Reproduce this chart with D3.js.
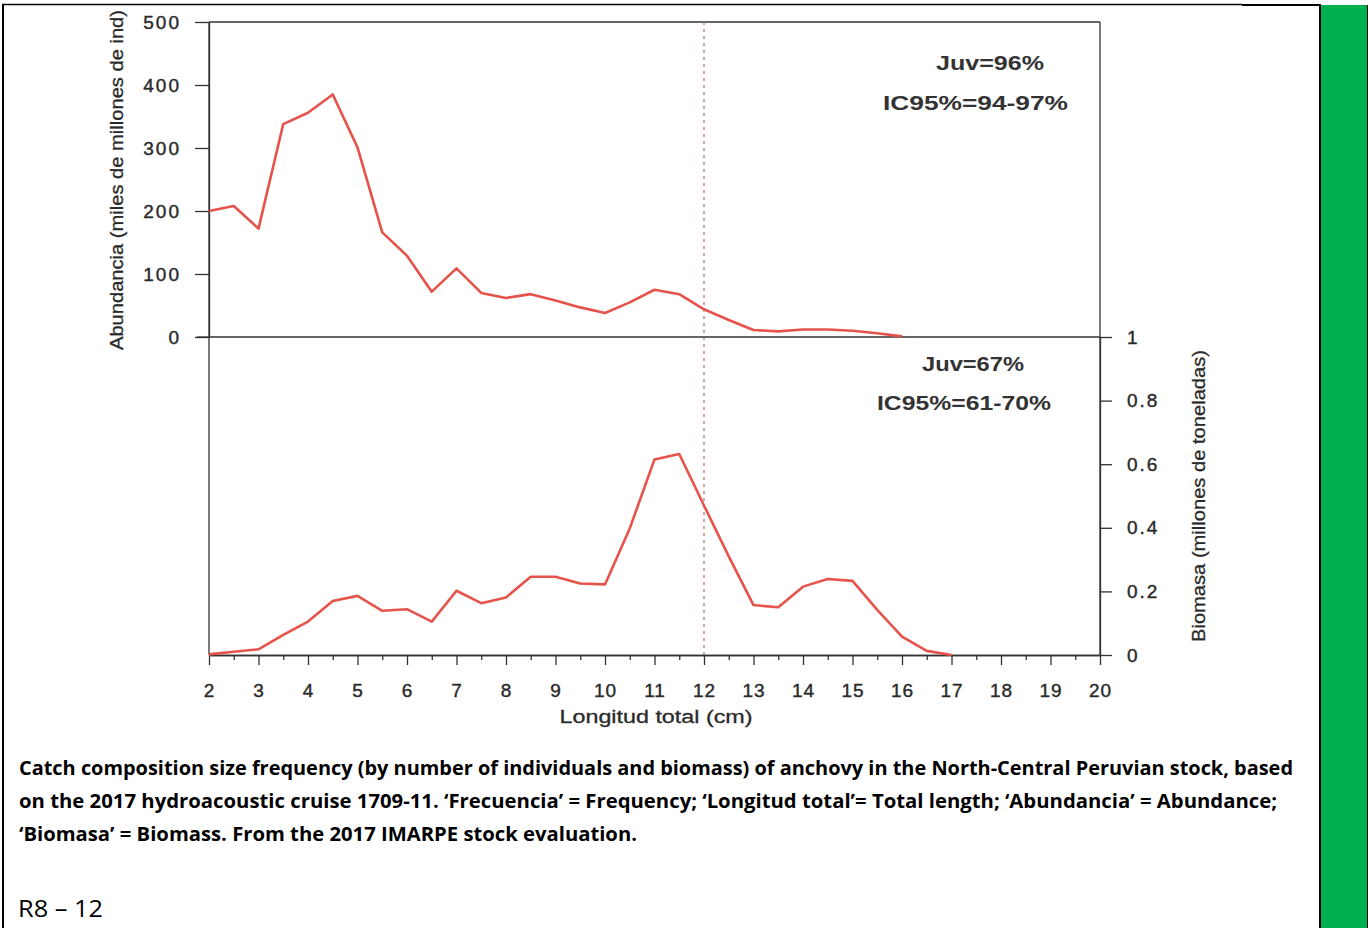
<!DOCTYPE html>
<html>
<head>
<meta charset="utf-8">
<script src="https://cdn.jsdelivr.net/npm/d3@7"></script>
<style>
  body { margin: 0; background: #fff; }
  svg { display: block; }
</style>
</head>
<body>
<svg id="chart" width="1368" height="928"></svg>
<script>
// size classes (cm), every half cm
const tallas = [2, 2.5, 3, 3.5, 4, 4.5, 5, 5.5, 6, 6.5, 7, 7.5, 8, 8.5, 9, 9.5, 10,
  10.5, 11, 11.5, 12, 12.5, 13, 13.5, 14, 14.5, 15, 15.5, 16, 16.5, 17];

// top panel: abundance (miles de millones de ind), 2 .. 16 cm
const abundancia = [200, 208, 172, 338, 356, 385, 301, 166, 129, 72, 109, 70, 62, 68,
  58, 47, 38, 55, 75, 68, 44, 27, 11, 9, 12, 12, 10, 6, 1];

// bottom panel: biomass (millones de toneladas), 2 .. 17 cm
const biomasa = [0.002, 0.01, 0.018, 0.063, 0.105, 0.17, 0.186, 0.139, 0.144, 0.105,
  0.202, 0.163, 0.181, 0.246, 0.246, 0.225, 0.222, 0.398, 0.615, 0.632, 0.47, 0.31,
  0.157, 0.15, 0.215, 0.239, 0.233, 0.142, 0.058, 0.013, 0];

const xTicks = d3.range(2, 21);
const xMinor = d3.range(2.5, 20, 1);
const abundTicks = [0, 100, 200, 300, 400, 500];
const bioTicks = [0, 0.2, 0.4, 0.6, 0.8, 1];
const tallaJuvenil = 12;

const notas = {
  top: ["Juv=96%", "IC95%=94-97%"],
  bottom: ["Juv=67%", "IC95%=61-70%"]
};

const caption = [
  "Catch composition size frequency (by number of individuals and biomass) of anchovy in the North-Central Peruvian stock, based",
  "on the 2017 hydroacoustic cruise 1709-11. \u2018Frecuencia\u2019 = Frequency; \u2018Longitud total\u2019= Total length; \u2018Abundancia\u2019 = Abundance;",
  "\u2018Biomasa\u2019 = Biomass. From the 2017 IMARPE stock evaluation."
];

const svg = d3.select("#chart");
const font = "'Liberation Sans', Arial, sans-serif";
const axisColor = "#333";
const textColor = "#2a2a2a";
const lineColor = "#e5534b";

// layout
const left = 209, right = 1100;
const topY = 22, midY = 337, bottomY = 655;

const x = d3.scaleLinear().domain([2, 20]).range([left, right]);
const yTop = d3.scaleLinear().domain([0, 500]).range([midY, topY]);
const yBot = d3.scaleLinear().domain([0, 1]).range([bottomY, midY]);

// page frame + green side bar
svg.append("line").attr("x1", 3).attr("x2", 3).attr("y1", 4).attr("y2", 928)
  .attr("stroke", "#000").attr("stroke-width", 2);
svg.append("line").attr("x1", 2).attr("x2", 1242).attr("y1", 4.5).attr("y2", 4.5)
  .attr("stroke", "#000").attr("stroke-width", 1.5);
svg.append("line").attr("x1", 1242).attr("x2", 1321).attr("y1", 5).attr("y2", 5)
  .attr("stroke", "#000").attr("stroke-width", 2);
svg.append("rect").attr("x", 1320).attr("y", 5).attr("width", 48).attr("height", 923)
  .attr("fill", "#00AF50");
svg.append("line").attr("x1", 1320).attr("x2", 1320).attr("y1", 4).attr("y2", 928)
  .attr("stroke", "#000").attr("stroke-width", 2);
svg.append("line").attr("x1", 1367.5).attr("x2", 1367.5).attr("y1", 5).attr("y2", 928)
  .attr("stroke", "#000").attr("stroke-width", 1);

// panel frame
const frame = svg.append("g").attr("stroke", axisColor).attr("stroke-width", 1.3);
frame.append("line").attr("x1", left).attr("x2", right).attr("y1", topY).attr("y2", topY);
frame.append("line").attr("x1", left).attr("x2", left).attr("y1", topY).attr("y2", bottomY);
frame.append("line").attr("x1", right).attr("x2", right).attr("y1", topY).attr("y2", bottomY);
frame.append("line").attr("x1", left).attr("x2", right).attr("y1", midY).attr("y2", midY);

// 12 cm juvenile reference line
svg.append("line")
  .attr("x1", x(tallaJuvenil)).attr("x2", x(tallaJuvenil))
  .attr("y1", topY).attr("y2", bottomY)
  .attr("stroke", "#b5705f").attr("stroke-width", 1.2)
  .attr("stroke-dasharray", "3,4");

function styleAxis(g, spacing) {
  g.select(".domain").attr("stroke", axisColor).attr("stroke-width", 1.3);
  g.selectAll(".tick line").attr("stroke", axisColor).attr("stroke-width", 1.3);
  g.selectAll(".tick text")
    .attr("fill", textColor)
    .attr("stroke", textColor).attr("stroke-width", 0.4)
    .style("font-family", font)
    .style("font-size", "19px")
    .style("letter-spacing", spacing);
}

// left axis (abundance)
svg.append("g")
  .attr("transform", `translate(${left},0)`)
  .call(d3.axisLeft(yTop).tickValues(abundTicks).tickSize(14).tickSizeOuter(0).tickPadding(14))
  .call(g => styleAxis(g, "2px"));

// right axis (biomass)
svg.append("g")
  .attr("transform", `translate(${right},0)`)
  .call(d3.axisRight(yBot).tickValues(bioTicks).tickSize(12).tickSizeOuter(0).tickPadding(15)
    .tickFormat(d3.format("")))
  .call(g => styleAxis(g, "2px"));

// bottom axis: minor half-cm ticks, then labelled integers
svg.append("g")
  .attr("transform", `translate(0,${bottomY})`)
  .call(d3.axisBottom(x).tickValues(xMinor).tickSize(5).tickSizeOuter(0).tickFormat(""))
  .call(g => styleAxis(g, "0px"));
svg.append("g")
  .attr("transform", `translate(0,${bottomY})`)
  .call(d3.axisBottom(x).tickValues(xTicks).tickSize(10).tickSizeOuter(0).tickPadding(19))
  .call(g => styleAxis(g, "1px"));

// left tick at 0 continues the mid line outward
svg.append("line").attr("x1", left - 12).attr("x2", left).attr("y1", midY).attr("y2", midY)
  .attr("stroke", axisColor).attr("stroke-width", 1.3);

// series
const lineTop = d3.line().x((d, i) => x(tallas[i])).y(d => yTop(d));
const lineBot = d3.line().x((d, i) => x(tallas[i])).y(d => yBot(d));

svg.append("path").datum(abundancia)
  .attr("fill", "none").attr("stroke", lineColor).attr("stroke-width", 2.6)
  .attr("stroke-linejoin", "round").attr("d", lineTop);

svg.append("path").datum(biomasa)
  .attr("fill", "none").attr("stroke", lineColor).attr("stroke-width", 2.6)
  .attr("stroke-linejoin", "round").attr("d", lineBot);

// axis titles
const titleStyle = sel => sel.style("font-family", font).style("font-size", "18px")
  .attr("fill", textColor).attr("stroke", textColor).attr("stroke-width", 0.3)
  .attr("text-anchor", "middle").attr("lengthAdjust", "spacingAndGlyphs");

svg.append("text")
  .attr("transform", "translate(123,180) rotate(-90)")
  .attr("textLength", 340).call(titleStyle)
  .text("Abundancia (miles de millones de ind)");

svg.append("text")
  .attr("transform", "translate(1205,496) rotate(-90)")
  .attr("textLength", 292).call(titleStyle)
  .text("Biomasa (millones de toneladas)");

svg.append("text")
  .attr("x", 656).attr("y", 723)
  .attr("textLength", 193).call(titleStyle)
  .text("Longitud total (cm)");

// panel notes
const notaStyle = sel => sel.style("font-family", font).style("font-size", "21px")
  .style("font-weight", "bold").attr("fill", "#333").attr("lengthAdjust", "spacingAndGlyphs");

svg.append("text").attr("x", 936).attr("y", 70).attr("textLength", 108)
  .call(notaStyle).text(notas.top[0]);
svg.append("text").attr("x", 883).attr("y", 110).attr("textLength", 185)
  .call(notaStyle).text(notas.top[1]);
svg.append("text").attr("x", 922).attr("y", 371).attr("textLength", 102)
  .call(notaStyle).text(notas.bottom[0]);
svg.append("text").attr("x", 877).attr("y", 410).attr("textLength", 174)
  .call(notaStyle).text(notas.bottom[1]);

// caption
const capWidths = [1274, 1258, 618];
svg.selectAll("text.caption").data(caption).join("text")
  .attr("class", "caption")
  .attr("x", 19).attr("y", (d, i) => 775 + i * 33)
  .attr("textLength", (d, i) => capWidths[i]).attr("lengthAdjust", "spacingAndGlyphs")
  .style("font-family", "'Open Sans', 'Noto Sans', sans-serif")
  .style("font-size", "19px").style("font-weight", "bold").attr("fill", "#000")
  .text(d => d);

svg.append("text")
  .attr("x", 18).attr("y", 917)
  .attr("textLength", 85).attr("lengthAdjust", "spacingAndGlyphs")
  .style("font-family", "'Open Sans', 'Noto Sans', sans-serif")
  .style("font-size", "24px").attr("fill", "#000")
  .text("R8 \u2013 12");
</script>
</body>
</html>
